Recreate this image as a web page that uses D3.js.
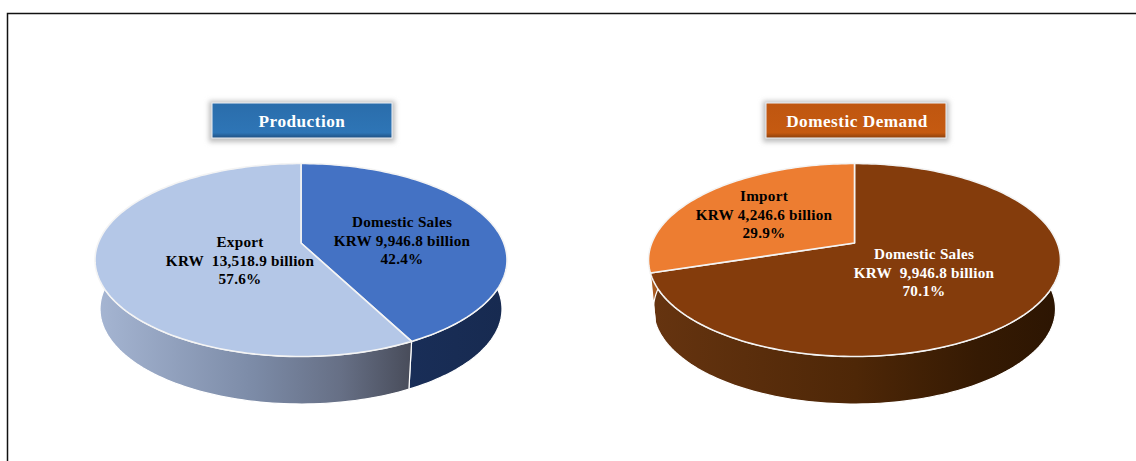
<!DOCTYPE html>
<html>
<head>
<meta charset="utf-8">
<script src="https://cdn.jsdelivr.net/npm/d3@7"></script>
<style>
    html, body { margin: 0; padding: 0; background: #fff; }
    svg { display: block; }
    text { font-family: "Liberation Serif", serif; font-weight: bold; white-space: pre; text-anchor: middle; }
</style>
</head>
<body>
<div id="chart"></div>
<script>
// values in KRW billion
const productionNames = ['Domestic Sales', 'Export'];
const productionValues = [9946.8, 13518.9];
const productionLabels = [
    ['Domestic Sales', 'KRW 9,946.8 billion', '42.4%'],
    ['Export', 'KRW  13,518.9 billion', '57.6%']
];
const demandNames = ['Domestic Sales', 'Import'];
const demandValues = [9946.8, 4246.6];
const demandLabels = [
    ['Domestic Sales', 'KRW  9,946.8 billion', '70.1%'],
    ['Import', 'KRW 4,246.6 billion', '29.9%']
];

const width = 1136;
const height = 461;

const svg = d3.select('#chart').append('svg')
    .attr('width', width)
    .attr('height', height);

const defs = svg.append('defs');

function gradient(id, stops, horizontal) {
    const g = defs.append('linearGradient').attr('id', id)
        .attr('x1', 0).attr('y1', 0)
        .attr('x2', horizontal ? 1 : 0).attr('y2', horizontal ? 0 : 1);
    stops.forEach(function(s) {
        g.append('stop').attr('offset', s[0]).attr('stop-color', s[1]);
    });
}

gradient('wallExport', [[0, '#a6b6d3'], [0.5, '#7c8ba7'], [0.78, '#666f85'], [1, '#484c5a']], true);
gradient('wallSalesBlue', [[0, '#1b3260'], [1, '#172a50']], true);
gradient('wallSalesBrown', [[0, '#663410'], [0.5, '#4e2707'], [0.8, '#351a03'], [1, '#2c1502']], true);
gradient('wallImport', [[0, '#a85a20'], [1, '#a85a20']], true);
gradient('boxBlue', [[0, '#2a6dab'], [0.85, '#2e75b6'], [1, '#1f4f80']], false);
gradient('boxOrange', [[0, '#bf5610'], [0.85, '#c55a11'], [1, '#8a3f0c']], false);

defs.append('filter').attr('id', 'soft')
    .attr('x', '-10%').attr('y', '-30%').attr('width', '120%').attr('height', '160%')
    .append('feGaussianBlur').attr('stdDeviation', 2.5);

// page frame, open at the right and bottom
svg.append('path')
    .attr('d', d3.line()([[7.5, height], [7.5, 13.5], [width, 13.5]]))
    .attr('fill', 'none')
    .attr('stroke', '#111')
    .attr('stroke-width', 1.5);

const pie = d3.pie().sort(null);

// Unit disc in perspective: the pie centre lands above the ellipse centre.
const tilt = -0.176;
function project(angle) {
    const u = Math.sin(angle);
    const v = -Math.cos(angle);
    const w = 1 + tilt * v;
    return [Math.sqrt(1 - tilt * tilt) * u / w, (v + tilt) / w];
}

function drawPie(opt) {
    const top = {
        x: d3.scaleLinear().domain([-1, 1]).range([opt.cx - 206, opt.cx + 206]),
        y: d3.scaleLinear().domain([-1, 1]).range([163.5, 356.5])
    };
    const bottom = {
        x: d3.scaleLinear().domain([-1, 1]).range([opt.cx - 201, opt.cx + 201]),
        y: d3.scaleLinear().domain([-1, 1]).range([214, 404])
    };
    const line = d3.line();
    const arcs = pie(opt.values);

    function rim(d, s) {
        const n = Math.ceil((d.endAngle - d.startAngle) * 40);
        return d3.range(n + 1).map(function(i) {
            const p = project(d.startAngle + (d.endAngle - d.startAngle) * i / n);
            return [s.x(p[0]), s.y(p[1])];
        });
    }

    const g = svg.append('g');

    // side walls first, the top faces cover whatever is at the back
    g.selectAll('.wall')
        .data(arcs)
    .enter().append('path')
        .attr('class', 'wall')
        .attr('d', function(d) {
            return line(rim(d, top).concat(rim(d, bottom).reverse())) + 'Z';
        })
        .attr('fill', function(d, i) { return 'url(#' + opt.walls[i] + ')'; })
        .attr('stroke', '#fff')
        .attr('stroke-width', 1.2);

    g.selectAll('.face')
        .data(arcs)
    .enter().append('path')
        .attr('class', 'face')
        .attr('d', function(d) {
            const hub = project(0);
            const c = [top.x(0), top.y(tilt)];
            return line([c].concat(rim(d, top))) + 'Z';
        })
        .attr('fill', function(d, i) { return opt.colors[i]; })
        .attr('stroke', '#f4f4f4')
        .attr('stroke-width', 1.6)
        .attr('stroke-linejoin', 'round');

    // slice labels
    const labels = g.selectAll('.label')
        .data(opt.labels)
    .enter().append('text')
        .attr('class', 'label')
        .attr('font-size', 15.2)
        .attr('letter-spacing', 0.25)
        .attr('fill', function(d, i) { return opt.textColors[i]; });
    labels.selectAll('tspan')
        .data(function(d, i) { return d.map(function(t) { return { t: t, i: i }; }); })
    .enter().append('tspan')
        .attr('x', function(d) { return opt.labelPos[d.i][0]; })
        .attr('y', function(d, j) { return opt.labelPos[d.i][1] + j * 18.7; })
        .text(function(d) { return d.t; });

    // title box
    const box = svg.append('g');
    box.append('rect')
        .attr('x', opt.boxX - 3).attr('y', 101)
        .attr('width', 186).attr('height', 41)
        .attr('fill', '#bdbdbd')
        .attr('filter', 'url(#soft)');
    box.append('rect')
        .attr('x', opt.boxX).attr('y', 103)
        .attr('width', 180).attr('height', 35)
        .attr('fill', 'url(#' + opt.boxFill + ')')
        .attr('stroke', '#eef2f7')
        .attr('stroke-width', 1);
    box.append('text')
        .attr('x', opt.boxX + opt.titleDx).attr('y', 127)
        .attr('font-size', 17.2)
        .attr('letter-spacing', 0.5)
        .attr('fill', '#fff')
        .text(opt.title);
}

drawPie({
    cx: 301,
    values: productionValues,
    colors: ['#4472c4', '#b4c7e7'],
    walls: ['wallSalesBlue', 'wallExport'],
    textColors: ['#000', '#000'],
    labels: productionLabels,
    labelPos: [[402, 227], [240, 247]],
    boxX: 212,
    boxFill: 'boxBlue',
    title: 'Production',
    titleDx: 90
});

drawPie({
    cx: 854.5,
    values: demandValues,
    colors: ['#843c0c', '#ed7d31'],
    walls: ['wallSalesBrown', 'wallImport'],
    textColors: ['#fff', '#000'],
    labels: demandLabels,
    labelPos: [[924, 259], [764, 201]],
    boxX: 766,
    boxFill: 'boxOrange',
    title: 'Domestic Demand',
    titleDx: 91
});
</script>
</body>
</html>
